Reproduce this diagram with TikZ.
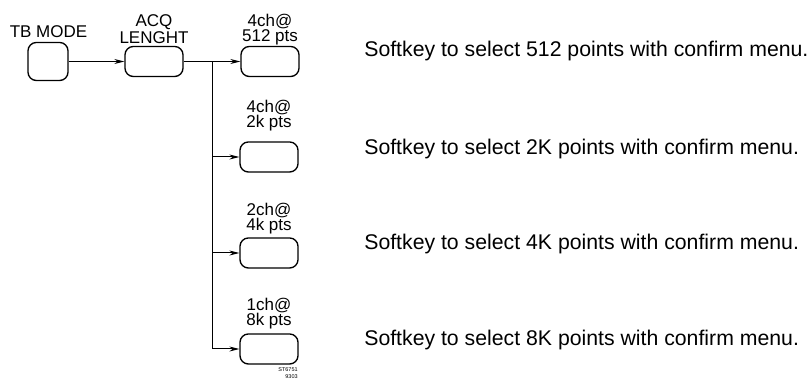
\documentclass[tikz,border=0pt]{standalone}
\usepackage{fontspec}
\setmainfont{Liberation Sans}
\usetikzlibrary{arrows.meta}
\begin{document}
\begin{tikzpicture}[x=0.6pt, y=-0.6pt,
    softkey/.style = {draw, thick, rounded corners=5pt, minimum width=34.8pt,
        minimum height=18pt, inner sep=0pt},
    keylabel/.style = {align=center, font=\fontsize{10.2}{9}\selectfont, inner sep=0pt},
    note/.style = {anchor=base west, font=\fontsize{12.75}{14}\selectfont, inner sep=0pt},
    conn/.style = {semithick, -{Stealth[length=6pt, width=3pt]}}]
    \useasboundingbox (0,0) rectangle (811,383);

    % Softkeys
    \node[softkey, minimum width=24pt, minimum height=22.8pt] (tbmode) at (48,61.5) {};
    \node[softkey] (acq) at (154,61.5) {};
    \node[softkey] (k512) at (270,61.5) {};
    \node[softkey] (k2k) at (269,157) {};
    \node[softkey] (k4k) at (269,253) {};
    \node[softkey] (k8k) at (269,349) {};

    % Labels above the keys
    \node[keylabel] (tblabel) at (48.5,31.5) {TB MODE};
    \node[keylabel] (acqlabel) at (154,29) {ACQ\\LENGHT};
    \node[keylabel] (l512) at (270,30) {4ch@\\512 pts};
    \node[keylabel] (l2k) at (269,116) {4ch@\\2k pts};
    \node[keylabel] (l4k) at (269,219) {2ch@\\4k pts};
    \node[keylabel] (l8k) at (269,314) {1ch@\\8k pts};

    % Connectors
    \coordinate (split) at (212,61.5);
    \draw[conn] (tbmode) -- (acq);
    \draw[semithick] (acq) -- (split);
    \draw[conn] (split) -- (k512);
    \draw[conn] (split) |- (k2k);
    \draw[conn] (split) |- (k4k);
    \draw[conn] (split) |- (k8k);

    % Notes
    \node[note] (n512) at (364,57) {Softkey to select 512 points with confirm menu.};
    \node[note] (n2k) at (364,155) {Softkey to select 2K points with confirm menu.};
    \node[note] (n4k) at (364,250) {Softkey to select 4K points with confirm menu.};
    \node[note] (n8k) at (364,346) {Softkey to select 8K points with confirm menu.};

    \node[align=right, anchor=north east, inner sep=0pt,
        font=\fontsize{3.3}{4.2}\selectfont] (ref) at (298,367) {ST6751\\9303};
\end{tikzpicture}
\end{document}
